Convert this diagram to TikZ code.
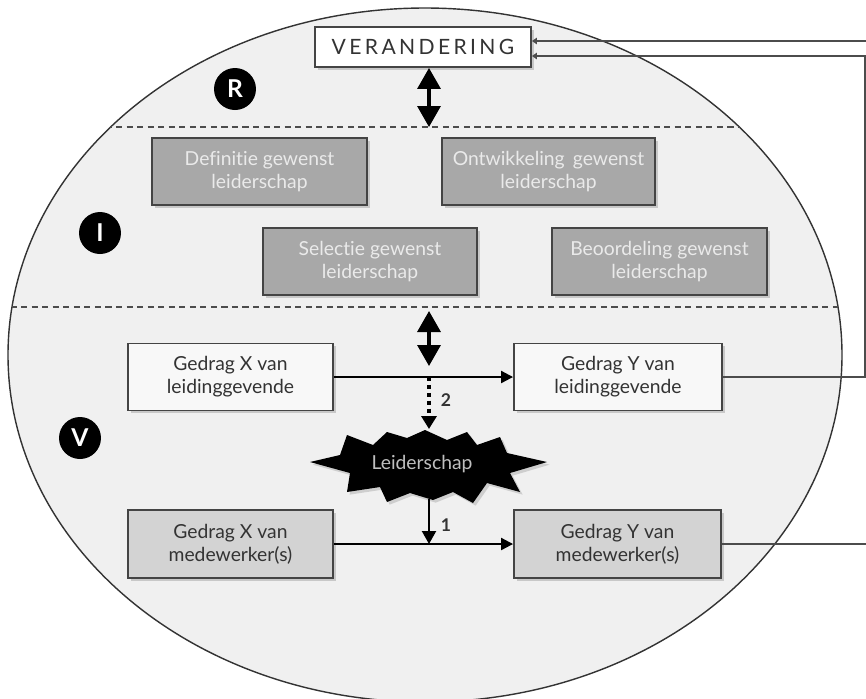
\documentclass[tikz,border=0pt]{standalone}
\usepackage{fontspec}
\setmainfont[Ligatures=NoCommon]{Lato}
\usetikzlibrary{arrows.meta,shadows,calc}
\definecolor{bordc}{HTML}{444444}
\definecolor{textc}{HTML}{333333}
\definecolor{gfill}{HTML}{A8A8A8}
\definecolor{gtext}{HTML}{EAEAEA}
\definecolor{mfill}{HTML}{D3D3D3}
\definecolor{wfill}{HTML}{F8F8F8}
\definecolor{bgfill}{HTML}{F0F0F0}
\begin{document}
\begin{tikzpicture}[x=0.02cm,y=-0.02cm,
  boxbase/.style={draw=bordc, line width=1.1pt, align=center, inner sep=0pt,
    minimum height=1.34cm, font=\fontsize{11}{13}\selectfont,
    drop shadow={shadow xshift=1.6pt, shadow yshift=-1.6pt, opacity=0.35}},
  wbox/.style={boxbase, fill=wfill, text=textc},
  mbox/.style={boxbase, fill=mfill, text=textc},
  gbox/.style={boxbase, fill=gfill, text=gtext},
  badge/.style={circle, fill=black, text=white, minimum size=0.84cm, inner sep=0pt,
    font=\fontsize{14}{14}\selectfont\bfseries},
  dblarrow/.style={line width=1.9pt, {Triangle[width=0.46cm,length=0.42cm]}-{Triangle[width=0.46cm,length=0.42cm]}},
  harrow/.style={line width=1.2pt, -{Triangle[width=0.24cm,length=0.24cm]}},
  varrow/.style={line width=1.2pt, -{Triangle[width=0.28cm,length=0.26cm]}},
  fbline/.style={line width=1.5pt, draw=black!70, -{Triangle[width=0.13cm,length=0.1cm]}},
  numlab/.style={font=\fontsize{10}{10}\selectfont\bfseries, text=textc},
  sepline/.style={draw=black!70, line width=0.9pt, dash pattern=on 3.5pt off 2.5pt}
]
\clip (0,0) rectangle (866,698);
\fill[white] (0,0) rectangle (866,698);
% main ellipse
\draw[fill=bgfill, draw=black!80, line width=0.8pt] (425,355) ellipse [x radius=417, y radius=347];
\begin{scope}
  \clip (425,355) ellipse [x radius=417, y radius=347];
  \draw[sepline] (0,127) -- (866,127);
  \draw[sepline] (0,307) -- (866,307);
\end{scope}

% badges
\node[badge] (R) at (235,89) {R};
\node[badge] (I) at (100,233) {I};
\node[badge] (V) at (80,438) {V};

% top box
\node[wbox, fill=white, minimum width=4.32cm, minimum height=0.8cm,
  font=\fontsize{12}{12}\selectfont\addfontfeature{LetterSpace=16}] (ver) at (423,47) {VERANDERING};

% I boxes
\node[gbox, minimum width=4.3cm] (def) at (259.5,171.5) {Definitie gewenst\\leiderschap};
\node[gbox, minimum width=4.26cm] (ont) at (548.5,171.5) {Ontwikkeling\, gewenst\\leiderschap};
\node[gbox, minimum width=4.28cm] (sel) at (370,261.5) {Selectie gewenst\\leiderschap};
\node[gbox, minimum width=4.3cm] (beo) at (659.5,261.5) {Beoordeling gewenst\\leiderschap};

% V boxes
\node[wbox, minimum width=4.1cm] (xl) at (230.5,377) {Gedrag X van\\leidinggevende};
\node[wbox, minimum width=4.16cm] (yl) at (618,377) {Gedrag Y van\\leidinggevende};
\node[mbox, minimum width=4.1cm, minimum height=1.36cm] (xm) at (230.5,544) {Gedrag X van\\medewerker(s)};
\node[mbox, minimum width=4.14cm, minimum height=1.36cm] (ym) at (617.5,544) {Gedrag Y van\\medewerker(s)};

% star
\coordinate (sc) at (428,466);
\fill[black, drop shadow={shadow xshift=1.5pt, shadow yshift=-1.5pt, opacity=0.3}]
  ($(sc)+(-118,-4)$) -- ($(sc)+(-88,-11)$) -- ($(sc)+(-81,-31)$) -- ($(sc)+(-55,-21)$)
  -- ($(sc)+(-41,-34)$) -- ($(sc)+(-21,-28)$) -- ($(sc)+(-3,-36)$) -- ($(sc)+(19,-26)$)
  -- ($(sc)+(39,-34)$) -- ($(sc)+(49,-21)$) -- ($(sc)+(72,-29)$) -- ($(sc)+(79,-13)$)
  -- ($(sc)+(119,-4)$) -- ($(sc)+(82,7)$) -- ($(sc)+(92,26)$) -- ($(sc)+(59,17)$)
  -- ($(sc)+(45,37)$) -- ($(sc)+(25,26)$) -- ($(sc)+(5,34)$) -- ($(sc)+(-18,27)$)
  -- ($(sc)+(-41,36)$) -- ($(sc)+(-48,21)$) -- ($(sc)+(-81,26)$) -- ($(sc)+(-78,7)$) -- cycle;
\node[text=black!25, font=\fontsize{11}{11}\selectfont] (lead) at (422,464) {Leiderschap};

% connector coordinates
\coordinate (a1) at (429,127);
\coordinate (a2t) at (429,311);
\coordinate (a2b) at (429,366);
\coordinate (startop) at (429,429);
\coordinate (starbot) at (429,499);

% double arrows
\draw[dblarrow] (ver.south -| a1) -- (a1);
\draw[dblarrow] (a2t) -- (a2b);

% horizontal arrows
\draw[harrow] (xl.east) -- (yl.west);
\draw[harrow] (xm.east) -- (ym.west);

% vertical arrows
\coordinate (j2) at (xl.east -| a1);
\coordinate (j1) at (xm.east -| a1);
\draw[line width=2pt, dash pattern=on 2.5pt off 2pt, -{Triangle[width=0.3cm,length=0.26cm]}] (j2) -- (startop);
\node[numlab] (n2) at (446,400) {2};
\draw[varrow] (starbot) -- (j1);
\node[numlab] (n1) at (446,525) {1};

% feedback lines
\draw[fbline] (yl.east) -- (865,377) -- (865,56) -- (ver.east |- 0,56);
\draw[fbline] (ym.east) -- (890,544) -- (890,41) -- (ver.east |- 0,41);
\end{tikzpicture}
\end{document}
